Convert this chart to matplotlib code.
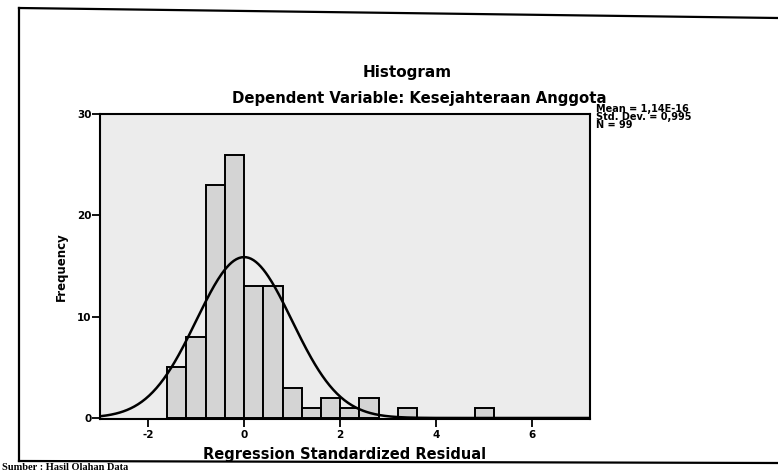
import numpy as np
import matplotlib
matplotlib.use("Agg")
import matplotlib.pyplot as plt
from matplotlib.lines import Line2D

plt.rcParams['font.family'] = ['DejaVu Sans']
plt.rcParams['axes.unicode_minus'] = False

# residual histogram bins (left edges, width 0.4) and counts
bin_left = [-1.6, -1.2, -0.8, -0.4, 0.0, 0.4, 0.8, 1.2, 1.6, 2.0, 2.4, 3.2, 4.8]
counts = [5, 8, 23, 26, 13, 13, 3, 1, 2, 1, 2, 1, 1]
bin_width = 0.4

mean = 1.14e-16
std = 0.995
n = 99

x_ticks = [-2, 0, 2, 4, 6]
y_ticks = [0, 10, 20, 30]

fig = plt.figure(figsize=(7.78, 4.72), dpi=100)
ax = fig.add_axes([100 / 778, 1 - 419 / 472, 490 / 778, 305 / 472])
ax.set_facecolor('#ececec')

ax.bar(bin_left, counts, width=bin_width, align='edge',
       color='#d4d4d4', edgecolor='black', linewidth=1.4, zorder=2)

# fitted normal curve
xs = np.linspace(-3.0, 7.2, 400)
ys = n * bin_width / (std * np.sqrt(2 * np.pi)) * np.exp(-0.5 * ((xs - mean) / std) ** 2)
ax.plot(xs, ys, color='black', linewidth=1.8, zorder=3)

ax.set_xlim(-3.0, 7.2)
ax.set_ylim(-0.1, 30.0)
ax.set_xticks(x_ticks)
ax.set_yticks(y_ticks)
ax.tick_params(axis='x', direction='out', length=6, width=1.3, labelsize=7.5, pad=2)
ax.tick_params(axis='y', direction='out', length=6, width=1.3, labelsize=7.5, pad=0)
for lab in ax.get_xticklabels() + ax.get_yticklabels():
    lab.set_fontweight('bold')
for sp in ax.spines.values():
    sp.set_linewidth(1.5)

ax.set_xlabel('Regression Standardized Residual', fontsize=10.5, fontweight='bold', labelpad=5)
ax.set_ylabel('Frequency', fontsize=8.5, fontweight='bold', labelpad=7)

fig.text(407 / 778, 1 - 72 / 472, 'Histogram', ha='center', va='center',
         fontsize=11, fontweight='bold')
fig.text(419 / 778, 1 - 98 / 472, 'Dependent Variable: Kesejahteraan Anggota',
         ha='center', va='center', fontsize=10.7, fontweight='bold')

fig.text(596 / 778, 1 - 104 / 472,
         'Mean = 1,14E-16\nStd. Dev. = 0,995\nN = 99',
         ha='left', va='top', fontsize=7, fontweight='bold', linespacing=0.75)

# outer frame around the chart (right side runs off the page)
fig.add_artist(Line2D([19 / 778, 19 / 778], [1 - 8 / 472, 1 - 461 / 472],
                      color='black', linewidth=1.6, transform=fig.transFigure))
fig.add_artist(Line2D([19 / 778, 1.0], [1 - 8 / 472, 1 - 18 / 472],
                      color='black', linewidth=1.6, transform=fig.transFigure))
fig.add_artist(Line2D([19 / 778, 1.0], [1 - 461 / 472, 1 - 463 / 472],
                      color='black', linewidth=1.6, transform=fig.transFigure))

fig.text(2 / 778, 1 - 471.5 / 472, 'Sumber : Hasil Olahan Data', ha='left', va='bottom',
         fontsize=7.5, fontweight='bold', family=['Liberation Serif', 'DejaVu Serif'])

fig.savefig('out.png', dpi=100)
